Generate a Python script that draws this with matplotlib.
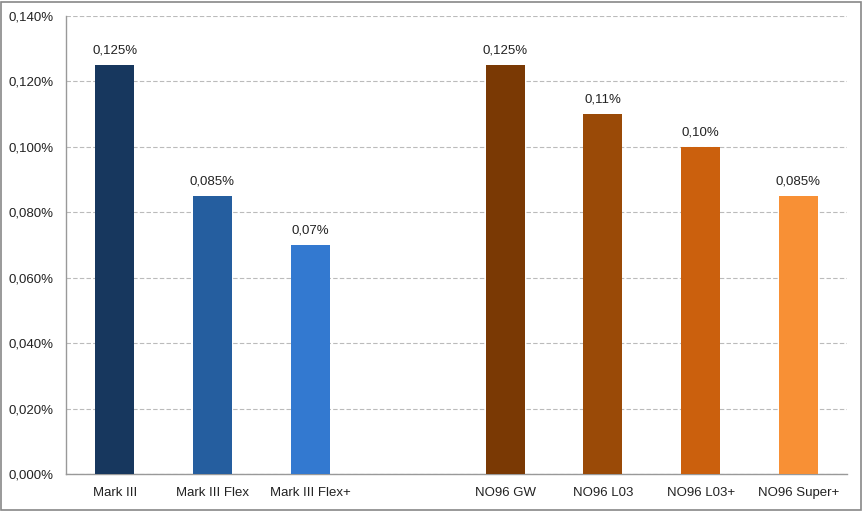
import matplotlib.pyplot as plt
from matplotlib.patches import Rectangle

categories = ['Mark III', 'Mark III Flex', 'Mark III Flex+', '',
              'NO96 GW', 'NO96 L03', 'NO96 L03+', 'NO96 Super+']
values = [0.125, 0.085, 0.07, None, 0.125, 0.11, 0.10, 0.085]
labels = ['0,125%', '0,085%', '0,07%', '', '0,125%', '0,11%', '0,10%', '0,085%']
colors = ['#17375E', '#255E9F', '#3379D0', None,
          '#7A3904', '#9A4A07', '#CB600D', '#F89035']
yticks = [0, 0.02, 0.04, 0.06, 0.08, 0.10, 0.12, 0.14]

plt.rcParams['font.family'] = ['Liberation Sans', 'DejaVu Sans']

fig = plt.figure(figsize=(8.63, 5.11), dpi=100)
ax = fig.add_axes([0.0765, 0.0724, 0.905, 0.8963])

for i, (v, c, lab) in enumerate(zip(values, colors, labels)):
    if v is None:
        continue
    ax.bar(i, v, width=0.4, color=c, zorder=3)
    ax.text(i, v + 0.0025, lab, ha='center', va='bottom', fontsize=9.5, color='#222222')

ax.set_xlim(-0.5, len(categories) - 0.5)
ax.set_ylim(0, 0.14)
ax.set_xticks(range(len(categories)))
ax.set_xticklabels(categories, fontsize=9.5, color='#222222')
ax.set_yticks(yticks)
ax.set_yticklabels(['{:.3f}%'.format(t).replace('.', ',') for t in yticks],
                   fontsize=9.5, color='#222222')
ax.tick_params(axis='both', length=0, pad=9)
ax.yaxis.grid(True, linestyle=(0, (4, 2)), color='#BBBBBB', linewidth=0.8, zorder=0)

for s in ['top', 'right']:
    ax.spines[s].set_visible(False)
for s in ['left', 'bottom']:
    ax.spines[s].set_color('#999999')
    ax.spines[s].set_linewidth(1)

fig.patches.append(Rectangle((0.001, 0.002), 0.997, 0.995, transform=fig.transFigure,
                             fill=False, edgecolor='#888888', linewidth=1.2))

fig.savefig('out.png', dpi=100)
